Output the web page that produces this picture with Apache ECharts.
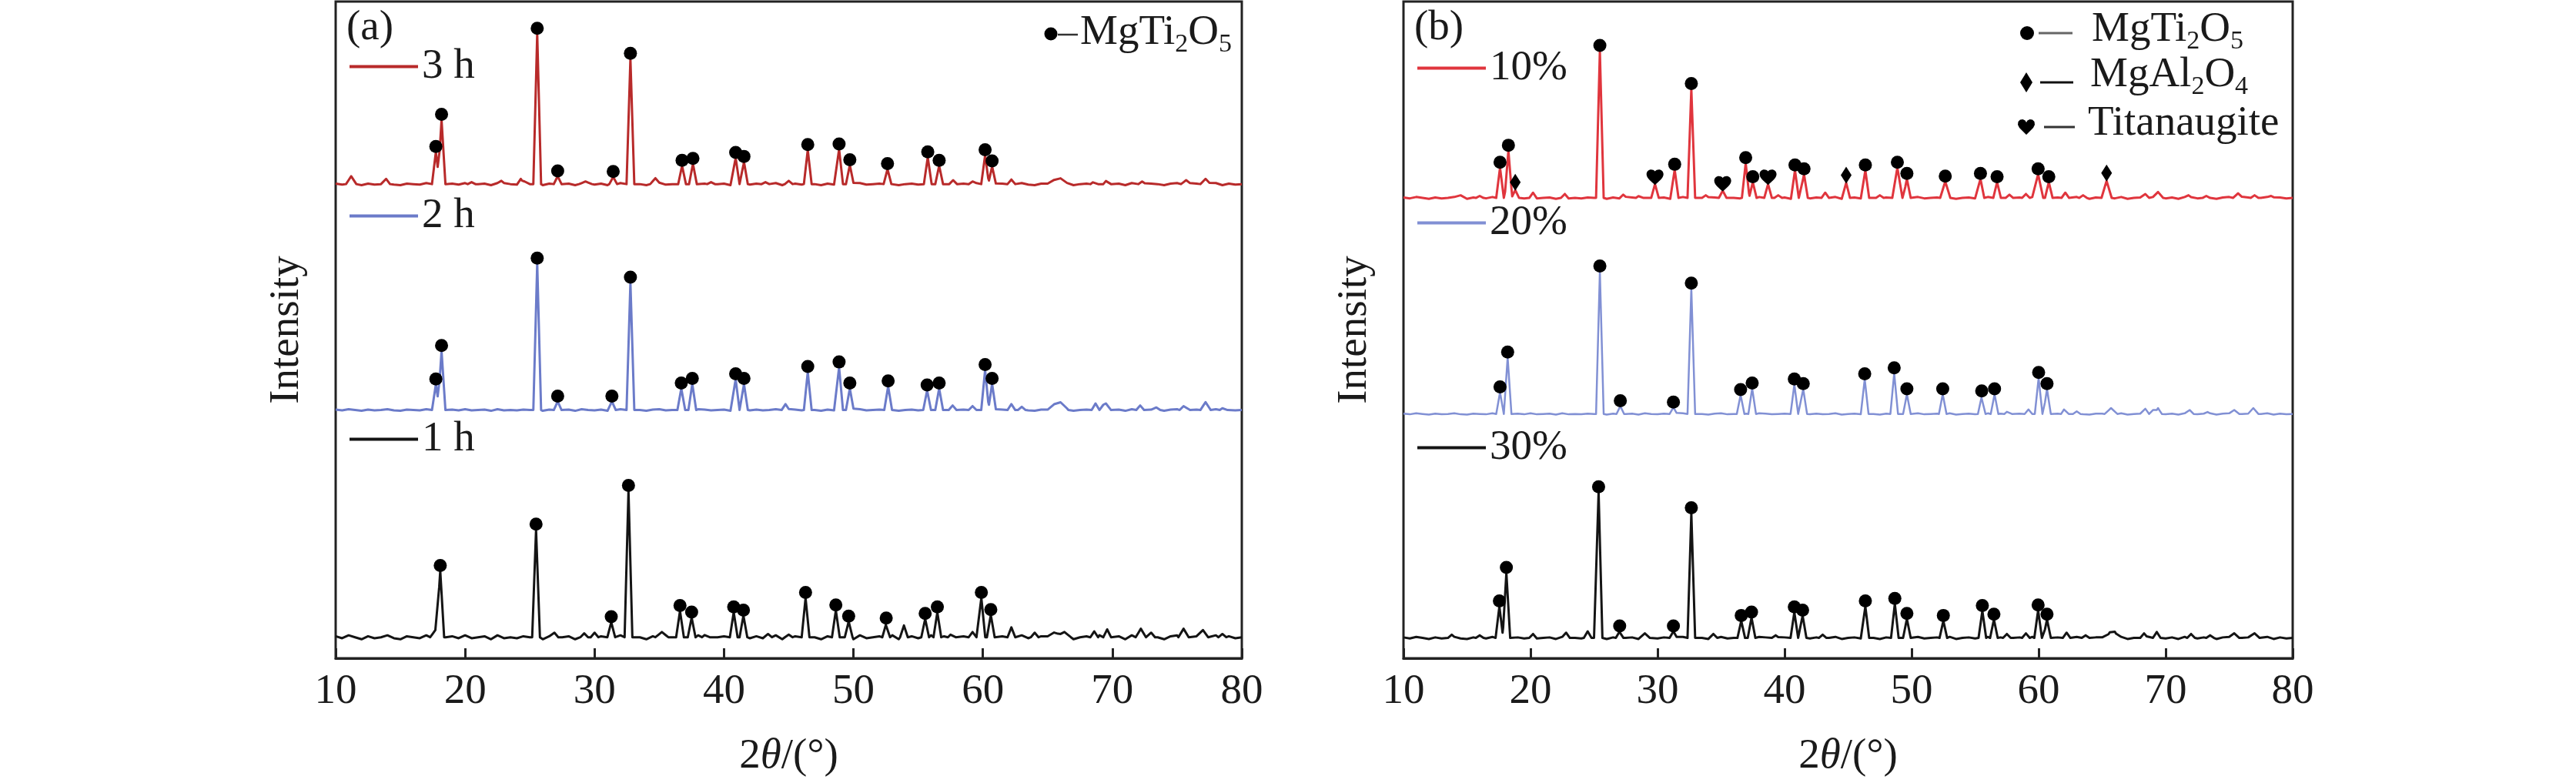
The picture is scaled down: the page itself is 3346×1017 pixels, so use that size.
<!DOCTYPE html>
<html>
<head>
<meta charset="utf-8">
<title>XRD patterns</title>
<script src="https://cdn.jsdelivr.net/npm/echarts@6/dist/echarts.min.js"></script>
<style>
html, body { margin: 0; padding: 0; background: #fff; }
#main { width: 3346px; height: 1017px; }
</style>
</head>
<body>
<div id="main"></div>
<script>
var FONT = '"Liberation Serif", "Times New Roman", serif';

// x axis ticks (2theta, degrees)
var xTicks = [10, 20, 30, 40, 50, 60, 70, 80];

// baseline jitter (x = 10, 10.5, ... 80)
var jitter = [
  1, -1, 2, 0, -2, 1, -1, 0, 2, -1,
  -2, 1, 0, -1, 2, 1, -2, 0, 1, -1,
  2, -1, 0, 1, -2, 2, -1, 0, -1, 1,
  0, 2, -2, 1, -1, 0, 1, -2, 2, 0,
  -1, 1, -2, 0, 2, -1, 1, 0, -2, 1,
  2, -1, 0, -1, 1, -2, 2, 1, -1, 0,
  1, -2, 0, 2, -1, 1, -1, 0, 2, -2,
  0, 1, -1, 2, 0, -2, 1, -1, 1, 0,
  -2, 2, -1, 0, 1, -1, 2, -2, 0, 1,
  -1, 0, 2, -1, 1, -2, 0, 1, -1, 2,
  0, -2, 1, 1, -1, 0, 2, -1, -2, 1,
  1, 0, -1, 2, -2, 0, 1, -1, 2, 0,
  -1, 1, -2, 2, 0, -1, 1, 0, -2, 1,
  2, -1, 0, 1, -1, 0, 2, -2, 1, -1,
  0
];

// ---- panel (a): holding time ----  [2theta, peak top (offset units), half width]
var base3h = 72.2;
var mgti3h = [[17.74, 77.1], [18.18, 82.0], [25.57, 95.1], [27.15, 73.4], [31.44, 73.3], [32.77, 91.3],
  [36.76, 75.0], [37.6, 75.3], [40.9, 76.2], [41.54, 75.6], [46.47, 77.4], [48.89, 77.5], [49.72, 75.1],
  [52.63, 74.5], [55.74, 76.3], [56.62, 75.0], [60.17, 76.6], [60.71, 74.9]];
var minor3h = [[11.2, 73.4, 0.4], [13.9, 73.0], [20.5, 72.5], [22.8, 72.7], [24.3, 73.0], [24.7, 72.8],
  [29.3, 72.6, 0.5], [34.7, 73.1, 0.4], [39.0, 72.5], [43.2, 72.5], [45.0, 72.7], [57.7, 72.8], [59.2, 72.6],
  [62.2, 72.9], [65.6, 73.0, 0.5], [66.1, 73.1, 0.5], [68.6, 72.6], [69.6, 72.9], [72.3, 72.6], [75.7, 72.8, 0.4], [77.2, 73.0, 0.4]];

var base2h = 37.8;
var mgti2h = [[17.74, 41.7], [18.18, 46.8], [25.57, 60.1], [27.15, 39.1], [31.34, 39.1], [32.77, 57.2],
  [36.7, 41.1], [37.55, 41.8], [40.9, 42.5], [41.54, 41.8], [46.47, 43.6], [48.89, 44.3], [49.72, 41.1],
  [52.68, 41.4], [55.69, 40.8], [56.62, 41.1], [60.17, 43.9], [60.71, 41.8]];
var minor2h = [[44.75, 38.7], [57.66, 38.5], [59.2, 38.4], [62.2, 38.7], [63.0, 38.3], [65.6, 38.9, 0.5],
  [66.1, 39.0, 0.5], [68.7, 38.8], [69.3, 38.6], [69.6, 38.9], [72.15, 38.5], [73.4, 38.2], [75.6, 38.6, 0.4],
  [77.2, 39.0, 0.4], [78.6, 38.2]];

var base1h = 3.2;
var mgti1h = [[18.08, 13.3], [25.48, 19.6], [31.29, 5.5], [32.62, 25.5], [36.6, 7.2], [37.5, 6.2],
  [40.75, 7.0], [41.5, 6.5], [46.3, 9.2], [48.64, 7.3], [49.63, 5.6], [52.53, 5.3], [55.54, 6.0],
  [56.48, 7.0], [59.88, 9.2], [60.61, 6.6]];
var minor1h = [[17.7, 4.3, 0.4], [26.9, 3.9], [29.2, 3.8], [30.0, 3.9], [35.2, 4.0, 0.5], [38.6, 3.7],
  [43.4, 3.7], [45.0, 3.6], [53.9, 5.0], [57.6, 3.8], [59.2, 4.0], [62.2, 4.7], [64.0, 3.9],
  [65.6, 4.1, 0.5], [66.3, 4.0, 0.5], [68.6, 4.1], [69.6, 4.4], [72.2, 4.5, 0.4], [73.0, 3.9],
  [75.5, 4.5, 0.4], [77.0, 4.3, 0.4], [78.5, 3.7]];

// ---- panel (b): addition amount ----
var base10 = 70.1;
var mgti10 = [[17.6, 74.7], [18.26, 77.3], [25.46, 92.5], [31.35, 74.4], [32.66, 86.7], [36.94, 75.4],
  [37.5, 72.5], [40.82, 74.3], [41.53, 73.7], [46.36, 74.3], [48.88, 74.7, 0.4], [49.63, 73.0],
  [52.65, 72.6, 0.4], [55.42, 73.0], [56.73, 72.5], [59.96, 73.7, 0.4], [60.8, 72.5]];
var mgal10 = [[18.8, 71.3], [44.85, 72.4], [65.35, 72.7, 0.4]];
var titan10 = [[29.8, 72.2], [35.13, 71.2], [38.7, 72.2]];
var minor10 = [[14.5, 70.5, 0.5], [16.0, 70.4], [20.2, 70.9], [22.7, 70.7], [27.3, 70.6], [28.6, 70.5],
  [33.8, 70.5], [39.5, 70.5], [43.2, 70.9], [47.5, 70.5], [57.7, 70.6], [59.0, 70.7], [62.1, 70.9],
  [63.5, 70.5], [68.4, 70.7], [69.4, 71.0, 0.4], [71.8, 70.5], [73.2, 70.4], [75.7, 70.8, 0.4],
  [77.0, 70.5], [78.3, 70.4]];

var base20 = 37.2;
var mgti20 = [[17.6, 40.5], [18.2, 45.8], [25.46, 58.9], [27.07, 38.4], [31.25, 38.2], [32.66, 56.3],
  [36.54, 40.1], [37.45, 41.1], [40.77, 41.7], [41.47, 41.0], [46.31, 42.5], [48.63, 43.4], [49.63, 40.2],
  [52.45, 40.2], [55.52, 39.9], [56.53, 40.2], [60.0, 42.7], [60.66, 41.0]];
var minor20 = [[57.6, 37.7], [59.2, 37.9], [62.07, 38.1], [63.0, 37.6], [65.7, 38.1, 0.5], [68.4, 38.0],
  [69.0, 37.8], [69.4, 38.1], [71.9, 37.8], [73.3, 37.5], [75.4, 37.8, 0.4], [76.9, 38.1, 0.4]];

var base30 = 3.1;
var mgti30 = [[17.55, 7.9], [18.1, 13.0], [25.36, 25.3], [27.02, 4.1], [31.25, 4.1], [32.66, 22.1],
  [36.59, 5.7], [37.4, 6.2], [40.77, 7.0], [41.42, 6.5], [46.36, 7.9], [48.68, 8.3], [49.63, 6.0],
  [52.5, 5.7], [55.57, 7.2], [56.48, 5.9], [59.96, 7.3], [60.66, 5.9]];
var minor30 = [[13.8, 3.6], [16.0, 3.5], [20.2, 3.7], [22.8, 3.9], [24.5, 4.1], [29.0, 3.8, 0.4],
  [34.4, 3.7], [39.3, 3.5], [43.0, 3.6], [57.5, 3.7], [59.0, 3.8], [62.2, 3.9], [63.7, 3.5],
  [65.6, 3.8, 0.5], [66.0, 3.9, 0.5], [68.3, 3.8], [69.3, 4.0], [72.0, 3.7], [73.5, 3.5],
  [75.4, 3.8, 0.4], [77.0, 3.8, 0.4]];

// build a polyline from peak list: each peak is a narrow triangle on the baseline
function trace(base, peaks, amp) {
  var xs = [];
  jitter.forEach(function (v, i) { xs.push(10 + i * 0.5); });
  peaks.forEach(function (p) {
    var w = p[2] || 0.3;
    xs.push(p[0] - w, p[0], p[0] + w);
  });
  xs = xs.filter(function (x) { return x >= 10 && x <= 80; });
  xs.sort(function (a, b) { return a - b; });
  return xs.map(function (x) {
    var y = base;
    peaks.forEach(function (p) {
      var w = p[2] || 0.3;
      var d = Math.abs(x - p[0]);
      if (d < w) y += (p[1] - base) * (1 - d / w);
    });
    var k = Math.round((x - 10) * 2);
    if (y === base && Math.abs(x - (10 + k * 0.5)) < 1e-9) y += jitter[k] * amp;
    return [x, y];
  });
}

function lineSeries(name, color, grid, data, width) {
  return {
    name: name, type: 'line', xAxisIndex: grid, yAxisIndex: grid,
    data: data, showSymbol: false, symbol: 'none', color: color,
    lineStyle: { color: color, width: width || 3, join: 'round' },
    silent: true, z: 2
  };
}

function markSeries(grid, peaks, symbol, size, dy) {
  return {
    type: 'scatter', xAxisIndex: grid, yAxisIndex: grid,
    data: peaks.map(function (p) { return [p[0], p[1]]; }),
    symbol: symbol, symbolSize: size, symbolOffset: [0, dy],
    itemStyle: { color: '#000', opacity: 1 }, silent: true, z: 3
  };
}

var HEART = 'path://M12 21.35l-1.45-1.32C5.4 15.36 2 12.28 2 8.5 2 5.42 4.42 3 7.5 3c1.74 0 3.41.81 4.5 2.09C13.09 3.81 14.76 3 16.5 3 19.58 3 22 5.42 22 8.5c0 3.78-3.4 6.86-8.55 11.54L12 21.35z';

var RED_A = '#b82a2a', BLUE_A = '#6b7bc9', BLACK = '#141414';
var RED_B = '#e0353d', BLUE_B = '#8190d4';

function xAxis(grid) {
  return {
    type: 'value', gridIndex: grid, min: 10, max: 80, interval: 10,
    axisLine: { show: true, lineStyle: { color: '#222', width: 3 } },
    axisTick: { show: true, inside: true, length: 13, lineStyle: { color: '#222', width: 3 } },
    axisLabel: { fontFamily: FONT, fontSize: 55, color: '#1a1a1a', margin: 16,
      formatter: function (v) { return xTicks.indexOf(v) >= 0 ? String(v) : ''; } },
    splitLine: { show: false },
    name: '2{i|θ}/(°)', nameLocation: 'middle', nameGap: 100,
    nameTextStyle: { fontFamily: FONT, fontSize: 55, color: '#1a1a1a',
      rich: { i: { fontFamily: FONT, fontSize: 55, fontStyle: 'italic', color: '#1a1a1a' } } }
  };
}

function yAxis(grid) {
  return {
    type: 'value', gridIndex: grid, min: 0, max: 100,
    axisLine: { show: false }, axisTick: { show: false }, axisLabel: { show: false },
    splitLine: { show: false },
    name: 'Intensity', nameLocation: 'middle', nameGap: 36, nameRotate: 90,
    nameTextStyle: { fontFamily: FONT, fontSize: 55, color: '#1a1a1a' }
  };
}

function seriesLegend(name, left, cy) {
  return {
    data: [name], left: left, top: cy - 27, icon: 'rect', itemWidth: 89, itemHeight: 4,
    selectedMode: false, padding: 0,
    textStyle: { fontFamily: FONT, fontSize: 55, color: '#1a1a1a', lineHeight: 55 }
  };
}

var RICH = {
  m: { fontFamily: FONT, fontSize: 55, fill: '#1a1a1a', lineHeight: 60, verticalAlign: 'top' },
  s: { fontFamily: FONT, fontSize: 34, fill: '#1a1a1a', lineHeight: 26, verticalAlign: 'bottom' }
};

function label(text, x, y) {
  return { type: 'text', x: x, y: y, silent: true,
    style: { text: text, rich: RICH, fill: '#1a1a1a', align: 'left', verticalAlign: 'middle' } };
}

function heartPoints(x0, y0) {
  var pts = [[11, 20], [2, 11], [0, 7], [0.5, 3], [3, 0.5], [6.5, 0], [9.5, 1.5], [11, 4],
    [12.5, 1.5], [15.5, 0], [19, 0.5], [21.5, 3], [22, 7], [20, 11]];
  return pts.map(function (p) { return [x0 + p[0], y0 + p[1]]; });
}

var chart = echarts.init(document.getElementById('main'), null, { renderer: 'canvas' });

chart.setOption({
  backgroundColor: '#fff',
  animation: false,
  grid: [
    { left: 436, top: 2, width: 1177, height: 853, show: true, borderColor: '#222', borderWidth: 3, backgroundColor: 'transparent' },
    { left: 1823, top: 2, width: 1155, height: 853, show: true, borderColor: '#222', borderWidth: 3, backgroundColor: 'transparent' }
  ],
  xAxis: [xAxis(0), xAxis(1)],
  yAxis: [yAxis(0), yAxis(1)],
  legend: [
    seriesLegend('3 h', 454, 86), seriesLegend('2 h', 454, 280), seriesLegend('1 h', 454, 570),
    seriesLegend('10%', 1841, 88), seriesLegend('20%', 1841, 289), seriesLegend('30%', 1841, 581)
  ],
  graphic: [
    label('{m|(a)}', 450, 39),
    label('{m|(b)}', 1837, 39),
    // phase key, panel (a)
    { type: 'circle', shape: { cx: 1365, cy: 44, r: 8.5 }, style: { fill: '#000' }, silent: true },
    { type: 'line', shape: { x1: 1374, y1: 45, x2: 1400, y2: 45 }, style: { stroke: '#333', lineWidth: 2.5 }, silent: true },
    label('{m|MgTi}{s|2}{m|O}{s|5}', 1403, 45),
    // phase key, panel (b)
    { type: 'circle', shape: { cx: 2633, cy: 43, r: 9 }, style: { fill: '#000' }, silent: true },
    { type: 'line', shape: { x1: 2648, y1: 43, x2: 2692, y2: 43 }, style: { stroke: '#666', lineWidth: 3 }, silent: true },
    label('{m|MgTi}{s|2}{m|O}{s|5}', 2717, 41),
    { type: 'polygon', shape: { points: [[2632, 94], [2640, 107], [2632, 120], [2624, 107]] }, style: { fill: '#000' }, silent: true },
    { type: 'line', shape: { x1: 2650, y1: 107, x2: 2693, y2: 107 }, style: { stroke: '#111', lineWidth: 3 }, silent: true },
    label('{m|MgAl}{s|2}{m|O}{s|4}', 2715, 100),
    { type: 'polygon', shape: { points: heartPoints(2621, 155) }, style: { fill: '#000' }, silent: true },
    { type: 'line', shape: { x1: 2655, y1: 165, x2: 2695, y2: 165 }, style: { stroke: '#333', lineWidth: 3 }, silent: true },
    label('{m|Titanaugite}', 2712, 163)
  ],
  series: [
    lineSeries('3 h', RED_A, 0, trace(base3h, mgti3h.concat(minor3h), 0.08)),
    lineSeries('2 h', BLUE_A, 0, trace(base2h, mgti2h.concat(minor2h), 0.06)),
    lineSeries('1 h', BLACK, 0, trace(base1h, mgti1h.concat(minor1h), 0.15)),
    markSeries(0, mgti3h, 'circle', 17, -7),
    markSeries(0, mgti2h, 'circle', 17, -7),
    markSeries(0, mgti1h, 'circle', 17, -7),

    lineSeries('10%', RED_B, 1, trace(base10, mgti10.concat(mgal10, titan10, minor10), 0.07)),
    lineSeries('20%', BLUE_B, 1, trace(base20, mgti20.concat(minor20), 0.05), 2.5),
    lineSeries('30%', BLACK, 1, trace(base30, mgti30.concat(minor30), 0.08)),
    markSeries(1, mgti10, 'circle', 17, -7),
    markSeries(1, mgal10, 'diamond', [14, 22], -10),
    markSeries(1, titan10, HEART, [22, 20], -9),
    markSeries(1, mgti20, 'circle', 17, -7),
    markSeries(1, mgti30, 'circle', 17, -7)
  ]
});
</script>
</body>
</html>
